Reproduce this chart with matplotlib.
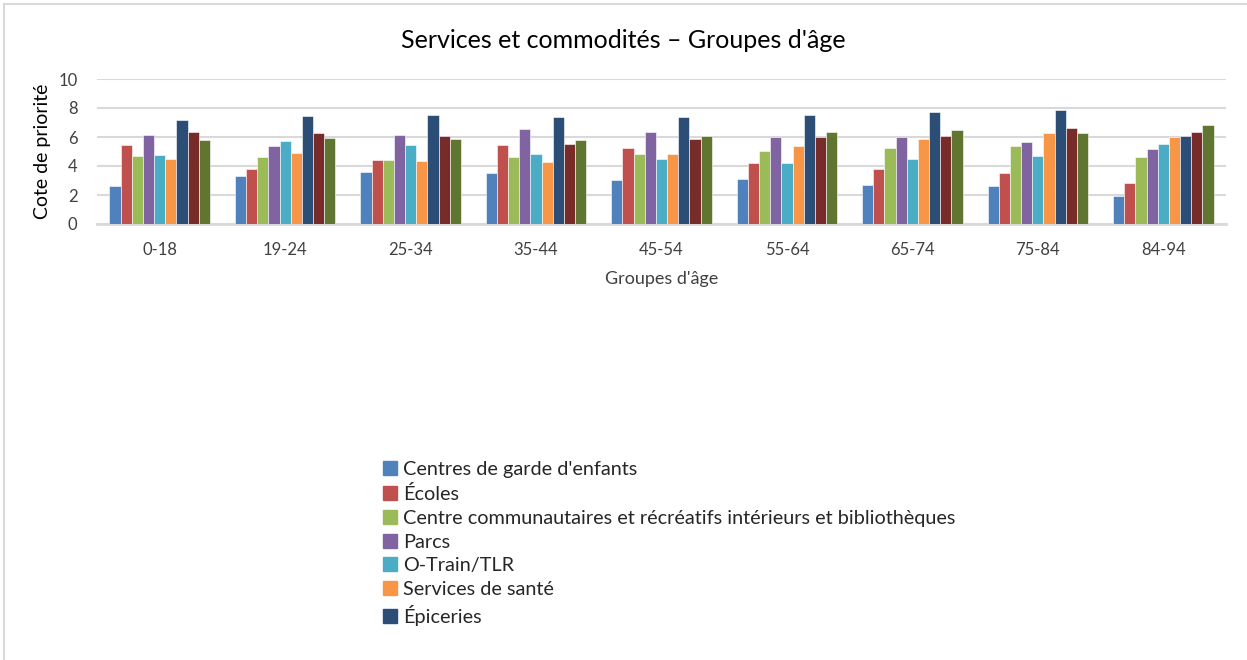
import numpy as np
import matplotlib.pyplot as plt
from matplotlib.lines import Line2D

plt.rcParams['font.family'] = ['Lato', 'DejaVu Sans']

# --------------------------- data ---------------------------------------------
age_groups = ["0-18", "19-24", "25-34", "35-44", "45-54", "55-64", "65-74", "75-84", "84-94"]

garde = [2.6, 3.3, 3.6, 3.5, 3.05, 3.1, 2.7, 2.65, 1.95]
ecoles = [5.45, 3.8, 4.4, 5.45, 5.25, 4.2, 3.8, 3.55, 2.85]
centres = [4.7, 4.6, 4.4, 4.6, 4.8, 5.05, 5.25, 5.4, 4.6]
parcs = [6.15, 5.4, 6.15, 6.55, 6.35, 6.0, 6.0, 5.65, 5.15]
otrain = [4.75, 5.7, 5.45, 4.8, 4.5, 4.2, 4.45, 4.7, 5.5]
sante = [4.5, 4.9, 4.35, 4.3, 4.8, 5.4, 5.85, 6.25, 6.0]
epiceries = [7.15, 7.45, 7.55, 7.35, 7.4, 7.55, 7.75, 7.85, 6.05]
serie_8 = [6.35, 6.25, 6.05, 5.5, 5.85, 6.0, 6.05, 6.6, 6.35]   # not in visible legend
serie_9 = [5.8, 5.9, 5.85, 5.8, 6.1, 6.35, 6.45, 6.3, 6.85]     # not in visible legend

series = [garde, ecoles, centres, parcs, otrain, sante, epiceries, serie_8, serie_9]
labels = ["Centres de garde d'enfants", "Écoles",
          "Centre communautaires et récréatifs intérieurs et bibliothèques",
          "Parcs", "O-Train/TLR", "Services de santé", "Épiceries", None, None]
colors = ["#4F81BD", "#C0504D", "#9BBB59", "#8064A2", "#4BACC6",
          "#F79646", "#2C4D75", "#772C2A", "#5F7530"]

# --------------------------- plot ---------------------------------------------
W, H = 1247, 660
fig = plt.figure(figsize=(W / 100, H / 100), dpi=100)
ax = fig.add_axes([97 / W, 1 - 224 / H, 1129 / W, 145 / H])

x = np.arange(len(age_groups))
n = len(series)
bw = 0.089
for i, (vals, col) in enumerate(zip(series, colors)):
    ax.bar(x + (i - (n - 1) / 2) * bw, vals, width=bw, color=col,
           edgecolor="white", linewidth=0.4, zorder=3)

ax.set_xlim(-0.5, len(age_groups) - 0.5)
ax.set_ylim(0, 10)
ax.set_yticks(range(0, 11, 2))
ax.set_xticks(x)
ax.set_xticklabels(age_groups)
ax.tick_params(length=0, labelsize=12, colors="#404040")
ax.tick_params(axis="x", pad=13)
ax.tick_params(axis="y", pad=14)
ax.grid(axis="y", color="#d9d9d9", linewidth=1.5, zorder=0)
for s in ["top", "right", "left"]:
    ax.spines[s].set_visible(False)
ax.spines["bottom"].set_color("#d9d9d9")
ax.spines["bottom"].set_linewidth(2)

ax.set_xlabel("Groupes d'âge", fontsize=13, color="#404040", labelpad=9)
ax.set_ylabel("Cote de priorité", fontsize=14, color="black", labelpad=5)

fig.text(0.5, 1 - 40 / H, "Services et commodités – Groupes d'âge",
         ha="center", va="center", fontsize=18, color="black")

# legend (only the visible entries)
handles = [Line2D([], [], marker="s", linestyle="none", markersize=9.5,
                  markerfacecolor=c, markeredgecolor=c)
           for c, l in zip(colors, labels) if l]
leg = fig.legend(handles, [l for l in labels if l], loc="upper left",
                 bbox_to_anchor=(383 / W, 1 - 461 / H), frameon=False,
                 fontsize=14.3, handlelength=0.75, handletextpad=0.25,
                 labelspacing=0.345, borderaxespad=0, borderpad=0)
for t in leg.get_texts():
    t.set_color("#262626")

# chart frame (top and left edges visible)
fig.add_artist(Line2D([4 / W, 4 / W], [0, 1 - 4 / H], transform=fig.transFigure,
                      color="#d9d9d9", linewidth=1.5))
fig.add_artist(Line2D([4 / W, 1], [1 - 4 / H, 1 - 4 / H], transform=fig.transFigure,
                      color="#d9d9d9", linewidth=1.5))

fig.savefig("out.png", dpi=100, facecolor="white")
